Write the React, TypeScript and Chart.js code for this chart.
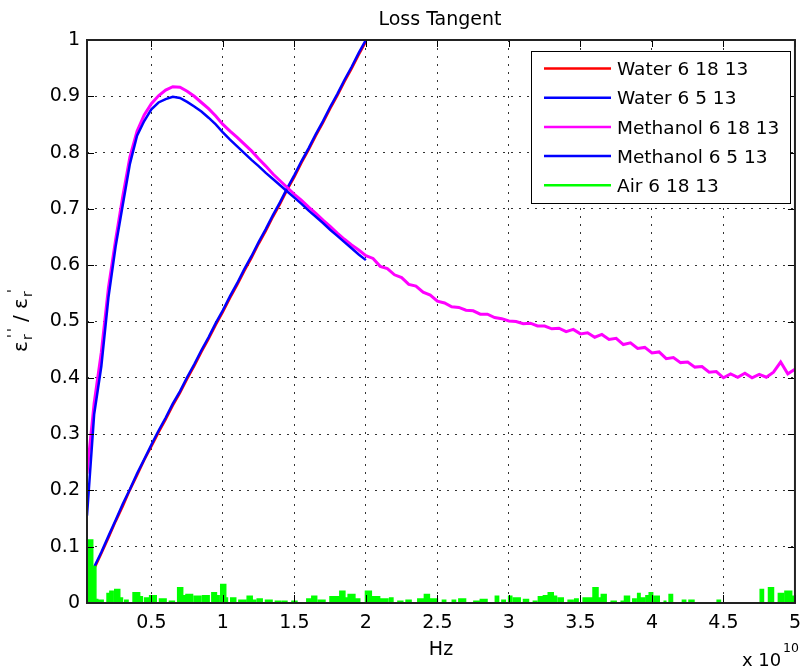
import React, { useEffect, useRef } from 'react';
import { Chart, registerables } from 'chart.js';

Chart.register(...registerables);

// ---------- axis ticks (frequency in units of 1e10 Hz) ----------
const xTickValues = [0.5, 1, 1.5, 2, 2.5, 3, 3.5, 4, 4.5, 5];
const yTickValues = [0, 0.1, 0.2, 0.3, 0.4, 0.5, 0.6, 0.7, 0.8, 0.9, 1];

// frequency grids of the sweeps
const sweepGrid = (start: number, step: number, count: number) =>
  Array.from({ length: count }, (_, i) => Math.round((start + i * step) * 1000) / 1000);
const freqShort = sweepGrid(0.05, 0.05, 40); // 0.05 .. 2.00
const freqWater = sweepGrid(0.1, 0.05, 39); // 0.10 .. 2.00
const freqLong = sweepGrid(0.05, 0.05, 100); // 0.05 .. 5.00

// ---------- series values ----------
const water61813 = [
  0.061, 0.088, 0.116, 0.145, 0.172, 0.201, 0.227, 0.254, 0.278, 0.303,
  0.326, 0.351, 0.373, 0.398, 0.421, 0.446, 0.469, 0.494, 0.517, 0.542,
  0.565, 0.59, 0.613, 0.638, 0.661, 0.686, 0.709, 0.734, 0.757, 0.782,
  0.805, 0.83, 0.853, 0.878, 0.901, 0.926, 0.949, 0.974, 0.997,
];
const water6513 = [
  0.064, 0.09, 0.119, 0.147, 0.176, 0.202, 0.23, 0.255, 0.281, 0.306,
  0.329, 0.354, 0.376, 0.401, 0.424, 0.449, 0.472, 0.497, 0.52, 0.545,
  0.568, 0.593, 0.616, 0.641, 0.664, 0.689, 0.712, 0.737, 0.76, 0.785,
  0.808, 0.833, 0.856, 0.881, 0.904, 0.929, 0.952, 0.977, 1.0,
];
const methanol61813 = [
  0.23, 0.355, 0.445, 0.56, 0.645, 0.722, 0.792, 0.838, 0.867, 0.887,
  0.901, 0.911, 0.917, 0.916, 0.909, 0.9, 0.889, 0.878, 0.865, 0.85,
  0.838, 0.827, 0.815, 0.803, 0.789, 0.776, 0.762, 0.75, 0.738, 0.726,
  0.715, 0.703, 0.692, 0.68, 0.669, 0.657, 0.646, 0.636, 0.627, 0.617,
  0.612, 0.598, 0.594, 0.583, 0.578, 0.566, 0.563, 0.552, 0.547, 0.536,
  0.533, 0.526, 0.525, 0.52, 0.519, 0.513, 0.513, 0.507, 0.505, 0.501,
  0.5, 0.496, 0.497, 0.492, 0.492, 0.487, 0.488, 0.482, 0.486, 0.478,
  0.48, 0.472, 0.477, 0.468, 0.47, 0.459, 0.462, 0.452, 0.454, 0.444,
  0.446, 0.434, 0.436, 0.427, 0.428, 0.419, 0.42, 0.41, 0.411, 0.4,
  0.407, 0.401, 0.408, 0.4, 0.406, 0.401, 0.41, 0.428, 0.407, 0.415,
];
const methanol6513 = [
  0.155, 0.335, 0.42, 0.543, 0.633, 0.707, 0.78, 0.83, 0.856, 0.877,
  0.889, 0.895, 0.899, 0.897, 0.89, 0.882, 0.873, 0.862, 0.85, 0.836,
  0.823, 0.811, 0.799, 0.787, 0.776, 0.764, 0.753, 0.742, 0.731, 0.72,
  0.709, 0.697, 0.686, 0.675, 0.663, 0.652, 0.641, 0.63, 0.619, 0.609,
];
// Air: level changes (frequency where a level starts, level value; below 0 = off-axis)
const airFreq = [
  0.05, 0.09, 0.112, 0.125, 0.135, 0.163, 0.19, 0.21, 0.233, 0.244,
  0.279, 0.298, 0.314, 0.337, 0.372, 0.418, 0.437, 0.453, 0.488, 0.534,
  0.557, 0.603, 0.626, 0.661, 0.684, 0.719, 0.737, 0.742, 0.788, 0.8,
  0.846, 0.858, 0.904, 0.923, 0.955, 0.974, 0.985, 1.02, 1.032, 1.055,
  1.09, 1.112, 1.159, 1.17, 1.205, 1.228, 1.24, 1.275, 1.298, 1.344,
  1.367, 1.402, 1.414, 1.448, 1.483, 1.518, 1.587, 1.622, 1.656, 1.668,
  1.714, 1.749, 1.818, 1.853, 1.876, 1.923, 1.957, 1.997, 2.038, 2.096,
  2.154, 2.166, 2.189, 2.224, 2.258, 2.281, 2.316, 2.363, 2.409, 2.444,
  2.5, 2.535, 2.558, 2.604, 2.627, 2.65, 2.697, 2.755, 2.8, 2.847,
  2.905, 2.928, 2.951, 2.975, 2.998, 3.02, 3.032, 3.079, 3.102, 3.137,
  3.171, 3.194, 3.206, 3.241, 3.275, 3.31, 3.333, 3.345, 3.38, 3.414,
  3.449, 3.46, 3.484, 3.519, 3.588, 3.623, 3.646, 3.68, 3.715, 3.75,
  3.785, 3.808, 3.843, 3.866, 3.889, 3.9, 3.917, 3.924, 3.947, 3.958,
  3.981, 4.005, 4.016, 4.051, 4.086, 4.097, 4.12, 4.144, 4.213, 4.236,
  4.259, 4.294, 4.456, 4.479, 4.757, 4.78, 4.815, 4.85, 4.884, 4.919,
  4.93, 4.977, 5.0,
];
const airLevel = [
  0.112, 0.065, 0.006, -0.01, 0.005, -0.01, 0.017, 0.021, -0.01, 0.024,
  0.009, -0.01, 0.005, -0.01, 0.018, 0.011, -0.01, 0.009, 0.013, -0.01,
  0.007, -0.01, 0.003, -0.01, 0.027, 0.013, -0.01, 0.015, -0.01, 0.012,
  -0.01, 0.013, -0.01, 0.018, 0.013, -0.01, 0.033, 0.009, -0.01, 0.009,
  -0.01, 0.005, -0.01, 0.012, 0.005, -0.01, 0.007, -0.01, 0.005, -0.01,
  0.003, -0.01, 0.003, -0.01, 0.003, -0.01, 0.007, 0.012, -0.01, 0.005,
  -0.01, 0.011, 0.021, 0.009, 0.015, 0.007, -0.01, 0.021, 0.011, 0.007,
  -0.01, 0.009, -0.01, 0.003, -0.01, 0.005, -0.01, 0.007, 0.015, 0.007,
  -0.01, 0.005, -0.01, 0.005, -0.01, 0.007, -0.01, 0.003, 0.006, -0.01,
  0.012, -0.01, 0.005, -0.01, 0.012, -0.01, 0.009, -0.01, 0.006, -0.01,
  0.003, -0.01, 0.011, 0.013, 0.018, 0.012, -0.01, 0.009, -0.01, 0.005,
  -0.01, 0.007, -0.01, 0.009, 0.027, 0.009, 0.015, -0.01, 0.003, -0.01,
  0.003, 0.012, -0.01, 0.007, -0.01, 0.017, -0.01, 0.009, -0.01, 0.013,
  0.018, -0.01, 0.012, -0.01, 0.003, -0.01, 0.015, -0.01, 0.005, -0.01,
  0.005, -0.01, 0.005, -0.01, 0.024, -0.01, 0.027, -0.01, 0.017, -0.01,
  0.021, 0.012, 0.012,
];

const seriesLabels = ['Water 6 18 13', 'Water 6 5 13', 'Methanol 6 18 13', 'Methanol 6 5 13', 'Air 6 18 13'];
const seriesColors = ['#ff0000', '#0000ff', '#ff00ff', '#0000ff', '#00ff00'];

const FONT = '"DejaVu Sans", "Liberation Sans", Arial, sans-serif';

const toPoints = (xs: number[], ys: number[]) => xs.map((x, i) => ({ x, y: ys[i] }));

const matlabPlugin = {
  id: 'matlabLook',
  afterDatasetsDraw(chart: any) {
    const { ctx, chartArea: a, scales } = chart;
    ctx.save();
    ctx.strokeStyle = '#000';
    ctx.lineWidth = 1;
    ctx.beginPath();
    for (const v of xTickValues) {
      const px = Math.round(scales.x.getPixelForValue(v)) + 0.5;
      ctx.moveTo(px, a.bottom);
      ctx.lineTo(px, a.bottom - 8);
      ctx.moveTo(px, a.top);
      ctx.lineTo(px, a.top + 7);
    }
    for (const v of yTickValues) {
      const py = Math.round(scales.y.getPixelForValue(v)) + 0.5;
      ctx.moveTo(a.left, py);
      ctx.lineTo(a.left + 7, py);
      ctx.moveTo(a.right, py);
      ctx.lineTo(a.right - 7, py);
    }
    ctx.stroke();
    ctx.strokeStyle = '#222';
    ctx.lineWidth = 2;
    ctx.strokeRect(a.left, a.top, a.right - a.left, a.bottom - a.top);
    ctx.restore();
  },
  afterDraw(chart: any) {
    const { ctx } = chart;
    ctx.save();
    ctx.fillStyle = '#000';
    // title
    ctx.font = `19px ${FONT}`;
    ctx.textAlign = 'center';
    ctx.textBaseline = 'alphabetic';
    ctx.fillText('Loss Tangent', 440, 25);
    // x label
    ctx.font = `19px ${FONT}`;
    ctx.fillText('Hz', 441, 655);
    // exponent
    ctx.textAlign = 'left';
    ctx.font = `18px ${FONT}`;
    ctx.fillText('x 10', 742, 666);
    ctx.font = `12.5px ${FONT}`;
    ctx.fillText('10', 783, 652);
    // y label  εr''/εr'
    ctx.translate(27, 352);
    ctx.rotate(-Math.PI / 2);
    const big = `20px ${FONT}`;
    const small = `14px ${FONT}`;
    ctx.font = big;
    ctx.fillText('ε', 0, 0);
    ctx.font = small;
    ctx.fillText('r', 12, 5);
    ctx.fillText("'", 14, -10);
    ctx.fillText("'", 20, -10);
    ctx.font = big;
    ctx.fillText('/', 30, 0);
    ctx.fillText('ε', 43, 0);
    ctx.font = small;
    ctx.fillText('r', 55, 5);
    ctx.fillText("'", 59, -10);
    ctx.restore();

    // legend box
    ctx.save();
    const bx = 531.5, by = 51.5, bw = 259, bh = 152;
    ctx.fillStyle = '#fff';
    ctx.fillRect(bx, by, bw, bh);
    ctx.strokeStyle = '#000';
    ctx.lineWidth = 1;
    ctx.strokeRect(bx, by, bw, bh);
    ctx.font = `18.5px ${FONT}`;
    ctx.textAlign = 'left';
    ctx.textBaseline = 'alphabetic';
    chart.data.datasets.forEach((ds: any, i: number) => {
      const cy = 68.5 + i * 29.2;
      ctx.strokeStyle = ds.borderColor;
      ctx.lineWidth = 2.5;
      ctx.beginPath();
      ctx.moveTo(544, cy);
      ctx.lineTo(611, cy);
      ctx.stroke();
      ctx.fillStyle = '#000';
      ctx.fillText(ds.label, 617, cy + 6.7);
    });
    ctx.restore();
  },
};

export default function App() {
  const canvasRef = useRef<HTMLCanvasElement | null>(null);

  useEffect(() => {
    const canvas = canvasRef.current;
    if (!canvas) return;
    const tickFont = { family: FONT, size: 19 };
    const chart = new Chart(canvas, {
      type: 'line',
      data: {
        datasets: [
          {
            label: seriesLabels[0],
            data: toPoints(freqWater, water61813),
            borderColor: seriesColors[0],
            borderWidth: 2.5,
            order: 5,
          },
          {
            label: seriesLabels[1],
            data: toPoints(freqWater, water6513),
            borderColor: seriesColors[1],
            borderWidth: 2.5,
            order: 4,
          },
          {
            label: seriesLabels[2],
            data: toPoints(freqLong, methanol61813),
            borderColor: seriesColors[2],
            borderWidth: 3,
            order: 3,
          },
          {
            label: seriesLabels[3],
            data: toPoints(freqShort, methanol6513),
            borderColor: seriesColors[3],
            borderWidth: 2.5,
            order: 2,
          },
          {
            label: seriesLabels[4],
            data: toPoints(airFreq, airLevel),
            borderColor: seriesColors[4],
            backgroundColor: seriesColors[4],
            borderWidth: 1.5,
            stepped: true,
            fill: 'origin',
            order: 1,
          },
        ] as any,
      },
      options: {
        animation: false,
        responsive: false,
        maintainAspectRatio: false,
        devicePixelRatio: 1,
        events: [],
        layout: { padding: { top: 40, right: 9, left: 0, bottom: 0 } },
        elements: { point: { radius: 0 }, line: { tension: 0 } },
        plugins: {
          legend: { display: false },
          title: { display: false },
          tooltip: { enabled: false },
        },
        scales: {
          x: {
            type: 'linear',
            min: 0.05,
            max: 5,
            afterFit: (s: any) => {
              s.height = 65;
            },
            afterBuildTicks: (s: any) => {
              s.ticks = xTickValues.map((v) => ({ value: v }));
            },
            ticks: {
              font: tickFont,
              color: '#000',
              padding: 9,
              maxRotation: 0,
              autoSkip: false,
              callback: (v: any) => String(v),
            },
            grid: { color: 'rgba(0,0,0,0.8)', lineWidth: 1, drawTicks: false },
            border: { display: false, dash: [2, 6] },
          },
          y: {
            type: 'linear',
            min: 0,
            max: 1,
            afterFit: (s: any) => {
              s.width = 87;
            },
            afterBuildTicks: (s: any) => {
              s.ticks = yTickValues.map((v) => ({ value: v }));
            },
            ticks: {
              font: tickFont,
              color: '#000',
              padding: 7,
              autoSkip: false,
              callback: (v: any) => String(v),
            },
            grid: { color: 'rgba(0,0,0,0.8)', lineWidth: 1, drawTicks: false },
            border: { display: false, dash: [2, 6] },
          },
        },
      } as any,
      plugins: [matlabPlugin],
    });
    return () => chart.destroy();
  }, []);

  return (
    <div style={{ position: 'absolute', left: 0, top: 0, width: 810, height: 668, background: '#fff' }}>
      <canvas ref={canvasRef} width={810} height={668} style={{ display: 'block' }} />
    </div>
  );
}
